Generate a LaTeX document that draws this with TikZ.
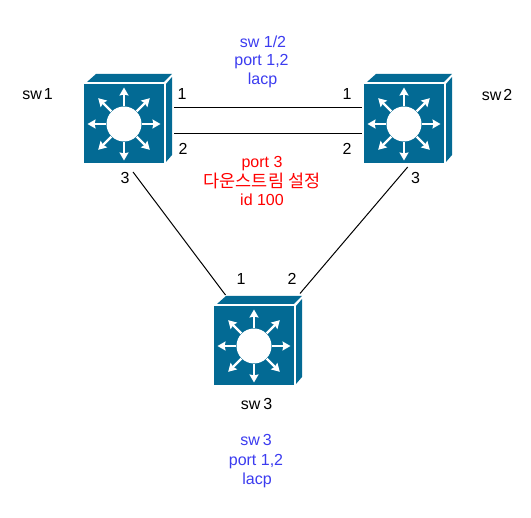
\documentclass[tikz,border=0pt]{standalone}
\usepackage{fontspec}
\setmainfont{Liberation Sans}
\newfontfamily\kr{Noto Sans CJK KR}
\definecolor{swblue}{HTML}{036A94}
\definecolor{lblue}{HTML}{3C3CF0}
\usetikzlibrary{arrows.meta}
\tikzset{
  swbody/.style={fill=swblue,draw=none},
  swarrow/.style={draw=white,line width=2.2pt,-{Stealth[length=8pt,width=9pt,inset=1pt]}},
  lbl/.style={inner sep=0pt,font=\fontsize{16}{18}\selectfont,text=black},
  wordlbl/.style={lbl,anchor=base},
  bluelbl/.style={wordlbl,text=lblue},
  redlbl/.style={wordlbl,text=red},
  wire/.style={draw=black,line width=1pt},
}
\newcommand{\swdraw}[3]{%
  \node[minimum width=80pt,minimum height=79pt,inner sep=0pt,anchor=north west] (#1) at (#2,#3) {};
  \begin{scope}[shift={(#2,#3)}]
    \fill[swbody] (0,0) rectangle (80,79);
    \fill[swbody] (3,-2) -- (12,-10) -- (88,-10) -- (80,-2) -- cycle;
    \fill[swbody] (82,0) -- (88,-7) -- (88,71) -- (82,78) -- cycle;
    \fill[white] (40,40) circle (17.5);
    \foreach \a in {0,45,...,315}{
      \draw[swarrow] (40,40) ++(\a:18) -- ++(\a:18.5);
    }
  \end{scope}
}
\begin{document}
\begin{tikzpicture}[x=1pt,y=-1pt]
\useasboundingbox (0,0) rectangle (531,518);
\fill[white] (0,0) rectangle (531,518);
\swdraw{s1}{84}{84}
\swdraw{s2}{364}{84}
\swdraw{s3}{214}{306}
\coordinate (a1) at (174,107.5);
\coordinate (b1) at (362,107.5);
\coordinate (a2) at (174,133.5);
\coordinate (b2) at (362,133.5);
\coordinate (a3) at (133,172);
\coordinate (c1) at (225.5,295);
\coordinate (b3) at (407.7,167);
\coordinate (c2) at (300,293.5);
\draw[wire] (a1) -- (b1);
\draw[wire] (a2) -- (b2);
\draw[wire] (a3) -- (c1);
\draw[wire] (b3) -- (c2);
\node[lbl] (n1) at (182,94) {1};
\node[lbl] (n2) at (183,149) {2};
\node[lbl] (n3) at (125,178) {3};
\node[lbl] (m1) at (347,94) {1};
\node[lbl] (m2) at (347,149) {2};
\node[lbl] (m3) at (415.5,178) {3};
\node[lbl] (k1) at (241,279) {1};
\node[lbl] (k2) at (292,279) {2};
\node[wordlbl] (t1) at (37.5,99.5) {sw\kern2pt 1};
\node[wordlbl] (t2) at (497,100.5) {sw\kern2pt 2};
\node[wordlbl] (t3) at (256.5,410) {sw\kern3pt 3};
\node[bluelbl] (u1) at (263,47.7) {sw 1/2};
\node[bluelbl] (u2) at (261.5,66) {port 1,2};
\node[bluelbl] (u3) at (262.5,85) {lacp};
\node[redlbl] (r1) at (262,168) {port 3};
\node[lbl,text=red,font=\fontsize{17.5}{18}\selectfont] (r2) at (262,181) {\kr 다운스트림 설정};
\node[redlbl] (r3) at (262,205.7) {id 100};
\node[bluelbl] (v1) at (256,446) {sw\kern3pt 3};
\node[bluelbl] (v2) at (256,466) {port 1,2};
\node[bluelbl] (v3) at (257,485) {lacp};
\end{tikzpicture}
\end{document}
